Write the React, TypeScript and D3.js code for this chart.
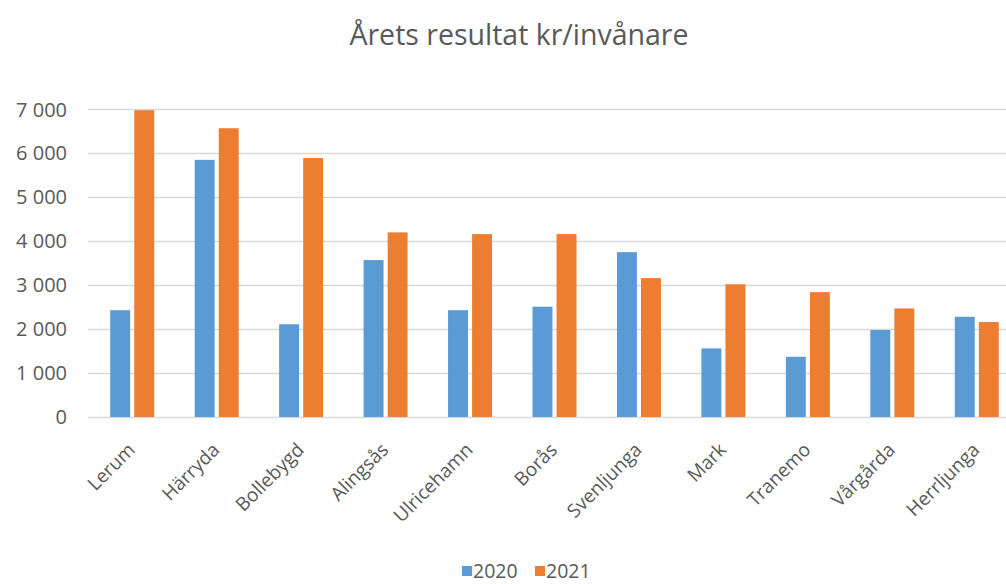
import React from "react";
import * as d3 from "d3";

const categories = ["Lerum", "Härryda", "Bollebygd", "Alingsås", "Ulricehamn", "Borås", "Svenljunga", "Mark", "Tranemo", "Vårgårda", "Herrljunga"];
const series2020 = [2430, 5850, 2110, 3570, 2430, 2510, 3750, 1560, 1370, 1980, 2280];
const series2021 = [6980, 6570, 5890, 4200, 4160, 4160, 3160, 3020, 2840, 2470, 2160];
const seriesNames = ["2020", "2021"];
const seriesColors = ["#5B9BD5", "#ED7D31"];
const yTicks = [0, 1000, 2000, 3000, 4000, 5000, 6000, 7000];
const title = "Årets resultat kr/invånare";

const W = 1006;
const H = 584;
const FONT = "'Open Sans', 'Noto Sans', sans-serif";
const TXT = "#595959";

export default function App() {
  const x = d3.scaleBand<string>().domain(categories).range([90, 1019]).padding(0);
  const x1 = d3.scaleBand<string>().domain(seriesNames).range([-22, 22]).paddingInner(0.17);
  const y = d3.scaleLinear().domain([0, 7000]).range([417, 109.3]);
  const fmt = (v: number) => d3.format(",")(v).replace(/,/g, " ");
  const data = [series2020, series2021];

  return (
    <svg width={W} height={H} style={{ position: "fixed", left: 0, top: 0, display: "block", background: "#fff" }}>
      <rect x={0} y={0} width={W} height={H} fill="#fff" />
      <text x={519} y={45} textAnchor="middle" fontFamily={FONT} fontSize={28.5} fill={TXT}>{title}</text>
      {yTicks.map((t) => (
        <g key={t}>
          <line x1={88} x2={W} y1={Math.round(y(t)) + 0.5} y2={Math.round(y(t)) + 0.5} stroke="#d9d9d9" strokeWidth={1.3} />
          <text x={67} y={y(t)} dy="0.36em" textAnchor="end" fontFamily={FONT} fontSize={20} fill={TXT}>{fmt(t)}</text>
        </g>
      ))}
      {categories.map((c, i) => {
        const cx = (x(c) as number) + x.bandwidth() / 2;
        return (
          <g key={c}>
            {data.map((s, k) => (
              <rect key={k} x={cx + (x1(seriesNames[k]) as number)} y={y(s[i])} width={x1.bandwidth()} height={y(0) - y(s[i])} fill={seriesColors[k]} />
            ))}
            <text transform={`translate(${cx + 4},${451}) rotate(-45)`} textAnchor="end" fontFamily={FONT} fontSize={19} fill={TXT}>{c}</text>
          </g>
        );
      })}
      {seriesNames.map((n, k) => (
        <g key={n} transform={`translate(${462 + k * 73},0)`}>
          <rect x={0} y={566} width={10} height={10} fill={seriesColors[k]} />
          <text x={11} y={578} fontFamily={FONT} fontSize={19.5} fill={TXT}>{n}</text>
        </g>
      ))}
    </svg>
  );
}
